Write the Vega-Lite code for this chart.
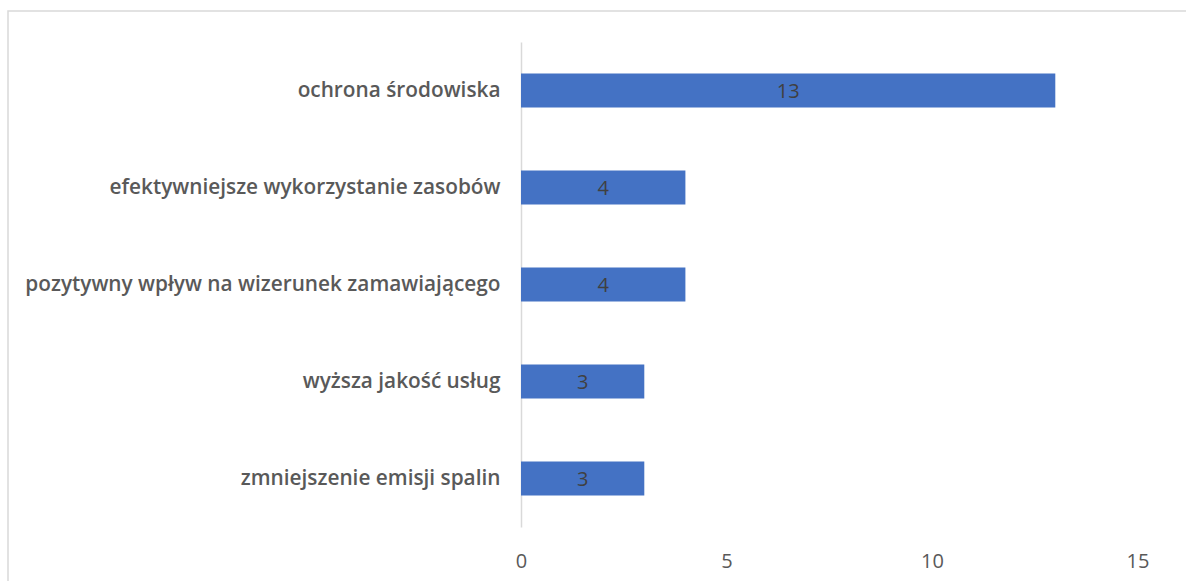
{
  "$schema": "https://vega.github.io/schema/vega-lite/v6.json",
  "autosize": "none",
  "width": 1190,
  "height": 575,
  "padding": {"left": 8, "top": 11, "right": 0, "bottom": 0},
  "background": "white",
  "config": {
    "view": {"stroke": "#d9d9d9", "strokeWidth": 1.5},
    "font": "Open Sans"
  },
  "data": {
    "values": [
      {"category": "ochrona środowiska", "value": 13},
      {"category": "efektywniejsze wykorzystanie zasobów ", "value": 4},
      {"category": "pozytywny wpływ na wizerunek zamawiającego", "value": 4},
      {"category": "wyższa jakość usług", "value": 3},
      {"category": "zmniejszenie emisji spalin", "value": 3}
    ]
  },
  "encoding": {
    "y": {
      "field": "category",
      "type": "nominal",
      "sort": null,
      "scale": {"range": [31, 516], "paddingInner": 0.65, "paddingOuter": 0.325},
      "axis": {
        "title": null,
        "offset": -513,
        "domainColor": "#d9d9d9",
        "domainWidth": 1.5,
        "ticks": false,
        "labelPadding": 21,
        "labelLimit": 700,
        "labelFont": "Open Sans",
        "labelFontSize": 20.8,
        "labelFontWeight": 600,
        "labelColor": "#595959"
      }
    }
  },
  "layer": [
    {
      "mark": {"type": "bar", "color": "#4472C4"},
      "encoding": {
        "x": {
          "field": "value",
          "type": "quantitative",
          "scale": {"domain": [0, 15], "range": [513, 1129.5], "nice": false},
          "axis": {
            "title": null,
            "values": [0, 5, 10, 15],
            "format": "d",
            "labelFlush": false,
            "offset": -36,
            "domain": false,
            "ticks": false,
            "grid": false,
            "labelPadding": 1,
            "labelFont": "Open Sans",
            "labelFontSize": 20,
            "labelColor": "#595959"
          }
        }
      }
    },
    {
      "transform": [{"calculate": "datum.value / 2", "as": "mid"}],
      "mark": {"type": "text", "fontSize": 20, "color": "#404040", "font": "Open Sans", "dy": 1},
      "encoding": {
        "x": {"field": "mid", "type": "quantitative"},
        "text": {"field": "value", "type": "quantitative"}
      }
    }
  ]
}
